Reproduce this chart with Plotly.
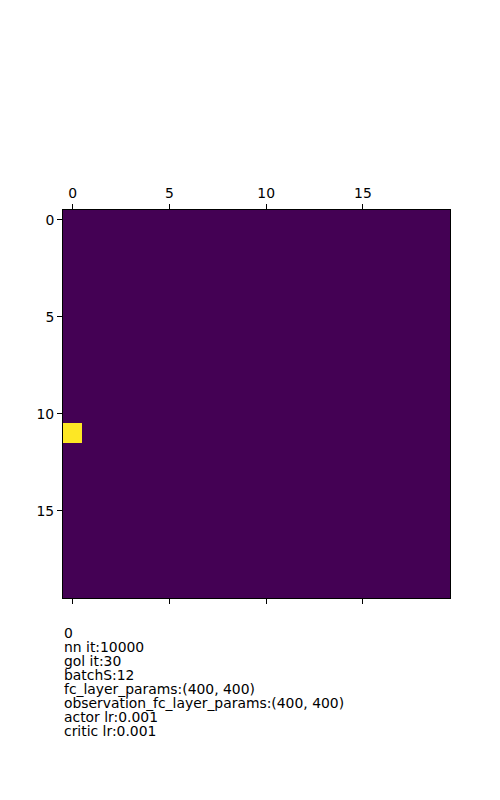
import plotly.graph_objects as go

n = 20
hot_row = 11
hot_col = 0
z = [[0] * n for _ in range(n)]
z[hot_row][hot_col] = 1
tick_vals = [0, 5, 10, 15]
tick_text = ["0", "5", "10", "15"]
info_lines = [
    "0",
    "nn it:10000",
    "gol it:30",
    "batchS:12",
    "fc_layer_params:(400, 400)",
    "observation_fc_layer_params:(400, 400)",
    "actor lr:0.001",
    "critic lr:0.001",
]

font = dict(family="DejaVu Sans", size=13.9, color="black")

fig = go.Figure()
fig.add_trace(go.Heatmap(
    z=z, x=list(range(n)), y=list(range(n)),
    colorscale=[[0, "#440154"], [1, "#fde725"]],
    showscale=False, hoverinfo="skip",
))
# invisible trace to activate bottom axis ticks
fig.add_trace(go.Scatter(x=[0], y=[0], xaxis="x2", mode="markers",
                         marker=dict(opacity=0), showlegend=False, hoverinfo="skip"))

fig.update_layout(
    width=500, height=800,
    margin=dict(l=63, r=49.5, t=210, b=202),
    plot_bgcolor="white", paper_bgcolor="white",
    font=font,
    xaxis=dict(side="top", range=[-0.5, n - 0.5], tickvals=tick_vals, ticktext=tick_text,
               ticks="outside", ticklen=5, tickcolor="black", tickwidth=1,
               showline=True, linecolor="black", linewidth=1, mirror=True,
               showgrid=False, zeroline=False, tickfont=font),
    xaxis2=dict(overlaying="x", side="bottom", matches="x", range=[-0.5, n - 0.5],
                tickvals=tick_vals, showticklabels=False,
                ticks="outside", ticklen=5, tickcolor="black", tickwidth=1,
                showline=False, showgrid=False, zeroline=False),
    yaxis=dict(range=[n - 0.5, -0.5], tickvals=tick_vals, ticktext=tick_text,
               ticks="outside", ticklen=5, tickcolor="black", tickwidth=1,
               showline=True, linecolor="black", linewidth=1, mirror=True,
               showgrid=False, zeroline=False, tickfont=font),
)

for i, line in enumerate(info_lines):
    fig.add_annotation(
        text=line, xref="paper", yref="paper", x=0, y=0,
        xanchor="left", yanchor="middle", showarrow=False,
        yshift=-(34.5 + i * 14.0), font=font, align="left",
        borderpad=0,
    )

fig.write_html("out.html")
